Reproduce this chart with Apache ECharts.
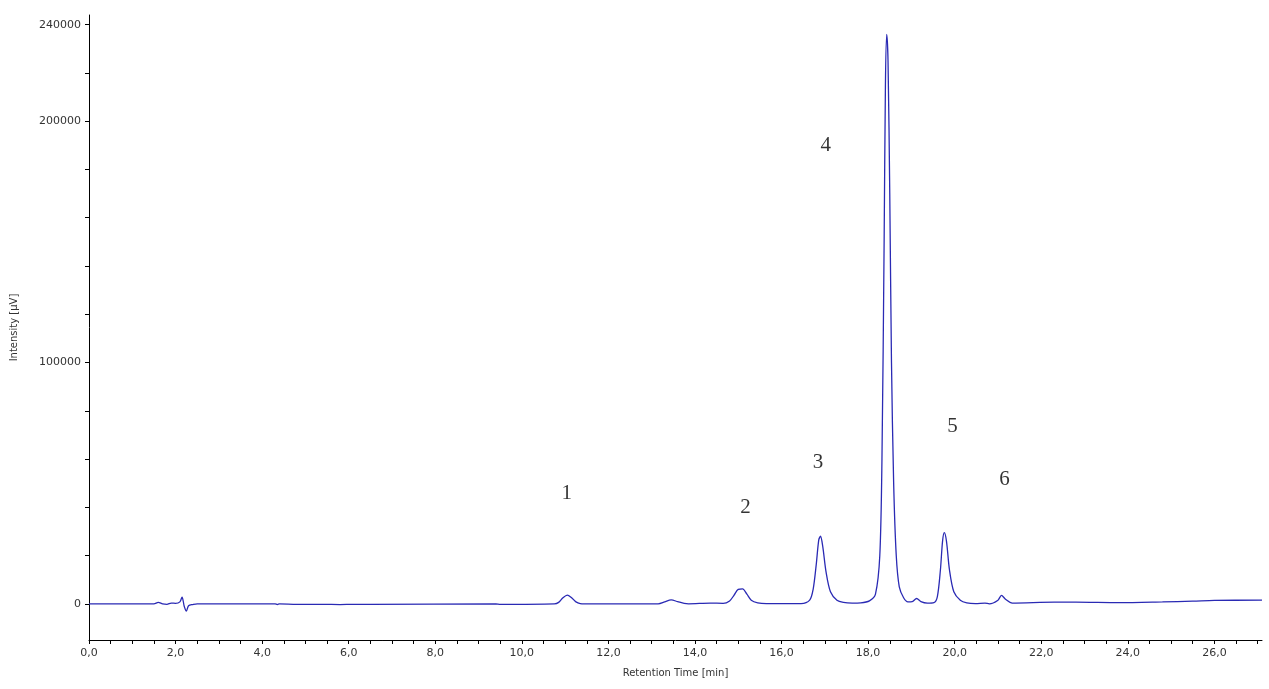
<!DOCTYPE html>
<html><head><meta charset="utf-8">
<script src="https://cdn.jsdelivr.net/npm/echarts@6/dist/echarts.min.js"></script>
<style>html,body{margin:0;background:#fff}#c{width:1269px;height:689px}</style>
</head><body><div id="c"></div>
<script>
const times = [0,1.5,1.6,1.7,1.8,1.9,2.0,2.1,2.15,2.2,2.25,2.3,2.4,2.5,4.3,4.35,4.4,4.8,5.0,5.4,5.8,6.1,6.5,9.4,9.5,10.75,10.85,10.95,11.05,11.15,11.25,11.35,11.45,13.15,13.3,13.45,13.6,13.75,13.85,14.35,14.65,14.8,14.9,15.0,15.1,15.2,15.3,15.45,15.65,16.45,16.65,16.73,16.8,16.86,16.9,16.95,17.03,17.13,17.28,17.43,17.63,17.83,18.03,18.17,18.27,18.32,18.37,18.4,18.43,18.46,18.5,18.54,18.59,18.65,18.72,18.82,18.92,19.02,19.12,19.22,19.37,19.52,19.6,19.67,19.72,19.76,19.81,19.88,19.98,20.13,20.28,20.48,20.7,20.8,21.0,21.08,21.18,21.33,22.3,22.8,23.8,24.8,25.5,26.0,27.1];
const intensity = [0,0,600,0,-200,300,200,800,2800,-1000,-3000,-800,-300,0,0,-300,0,-200,-200,-200,-300,-200,-200,0,-200,0,600,2500,3600,2500,800,100,0,0,800,1600,900,200,0,300,200,1200,3500,6000,6200,4000,1500,400,100,100,1500,6000,16000,26500,28000,24000,13000,5000,1500,600,300,400,1200,4000,20000,60000,150000,215000,236000,225000,170000,100000,50000,20000,7000,2500,800,900,2200,900,300,500,3000,14000,26000,29500,26000,14000,5000,1500,400,100,300,0,1500,3500,1800,300,700,700,500,800,1100,1400,1500];
const peakLabels = ['1','2','3','4','5','6'];
const peakX = [11.04,15.17,16.84,17.02,19.95,21.15];
const peakY = [45700,40000,58600,190000,73600,51600];
const xTicks = [], xLabels = [0,2,4,6,8,10,12,14,16,18,20,22,24,26];
for (let i=0;i<=54;i++) xTicks.push(i*0.5);
const yTicks = [0,20000,40000,60000,80000,100000,120000,140000,160000,180000,200000,220000,240000];
const yLabels = [0,100000,200000,240000];
const chart = echarts.init(document.getElementById('c'));
chart.setOption({
  animation:false,
  grid:{left:89,right:7,top:15,bottom:49},
  xAxis:{type:'value',min:0,max:27.1,
    name:'Retention Time [min]',nameLocation:'middle',nameGap:28,nameTextStyle:{fontSize:10,color:'#333',fontFamily:'DejaVu Sans'},
    axisLine:{onZero:false,lineStyle:{color:'#000'}},
    axisTick:{customValues:xTicks,inside:false,length:4,lineStyle:{color:'#000'}},
    axisLabel:{customValues:xLabels,formatter:v=>v.toFixed(1).replace('.',','),fontSize:11,color:'#333',fontFamily:'DejaVu Sans',margin:8},
    splitLine:{show:false}},
  yAxis:{type:'value',min:-15000,max:244000,
    name:'Intensity [µV]',nameLocation:'middle',nameGap:70,nameTextStyle:{fontSize:10,color:'#333',fontFamily:'DejaVu Sans'},
    axisLine:{show:true,lineStyle:{color:'#000'}},
    axisTick:{show:true,customValues:yTicks,length:4,lineStyle:{color:'#000'}},
    axisLabel:{customValues:yLabels,formatter:v=>String(v),fontSize:11,color:'#333',fontFamily:'DejaVu Sans'},
    splitLine:{show:false}},
  series:[
    {type:'line',data:times.map((t,i)=>[t,intensity[i]]),smooth:0.3,showSymbol:false,
     lineStyle:{color:'#2a2ab4',width:1.3}},
    {type:'scatter',data:peakX.map((x,i)=>[x,peakY[i],peakLabels[i]]),symbolSize:0,
     label:{show:true,position:'inside',formatter:p=>p.data[2],fontSize:21,color:'#000',fontFamily:'Liberation Serif'}}
  ]
});
</script></body></html>
